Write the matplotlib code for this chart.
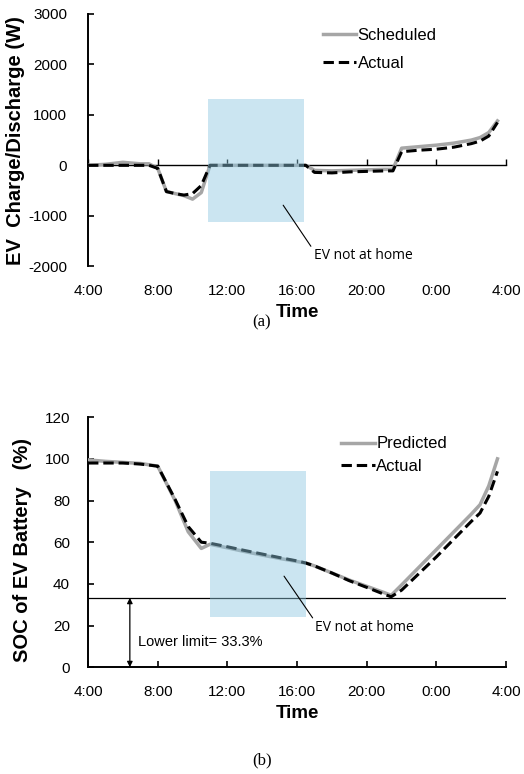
#!/usr/bin/env python3
"""
EV charge/discharge schedule and battery SOC over one day
(a) charge/discharge power, (b) state of charge
"""

import matplotlib
matplotlib.use('Agg')
import matplotlib.pyplot as plt

plt.rcParams['axes.unicode_minus'] = False

# hours after 4:00
tick_hours = [0, 4, 8, 12, 16, 20, 24]
tick_labels = ['4:00', '8:00', '12:00', '16:00', '20:00', '0:00', '4:00']

# (a) charge / discharge power (W)
power_hours = [0, 1, 2, 3, 3.5, 4, 4.5, 5, 5.5, 6, 6.5, 7, 8, 9, 10, 11, 12, 12.5,
               13, 14, 15, 16, 17, 17.5, 18, 19, 20, 21, 22, 22.5, 23, 23.5]
power_scheduled = [0, 20, 60, 30, 30, -60, -520, -560, -600, -670, -540, 0, 0, 0, 0, 0, 0, 0,
                   -100, -110, -100, -90, -80, -80, 340, 370, 400, 440, 500, 550, 650, 880]
power_actual = [0, 0, 0, 0, 0, -60, -520, -560, -590, -560, -400, 0, 0, 0, 0, 0, 0, 0,
                -140, -150, -130, -120, -110, -110, 270, 300, 320, 360, 430, 480, 580, 850]

# (b) state of charge (%)
soc_hours = [0, 1, 2, 3, 4, 5, 5.75, 6.5, 7, 8, 9, 10, 11, 12, 12.5, 13, 14, 15, 16,
             17, 17.4, 18, 19, 20, 21, 22, 22.5, 23, 23.5]
soc_predicted = [99.5, 98.8, 98.3, 97.8, 96.5, 80, 65, 57, 59, 57.3, 55.5, 53.8, 52.2, 50.7, 50,
                 48.6, 45.2, 41.8, 38.8, 35.8, 34.5, 39.5, 48, 56.5, 65, 73.5, 78, 87, 100]
soc_actual = [98, 98, 98, 97.5, 96.5, 80.5, 67.5, 60, 59.5, 57.8, 56, 54.3, 52.6, 51, 50,
              48.6, 45.2, 41.5, 38.3, 35, 33.8, 37, 45, 53, 61.5, 70, 74, 82, 94]
soc_lower_limit = 33.3

# EV away from home
away_a = (6.9, 12.4, -1130, 1310)
away_b = (7.0, 12.5, 24.2, 94)

FONT = 'Liberation Sans'
GRAY = '#a6a6a6'
BLUE = (0.55, 0.78, 0.88)


def style_axes(ax, ylim, yticks, ypad):
    ax.set_xlim(0, 24)
    ax.set_ylim(*ylim)
    ax.set_yticks(yticks)
    ax.spines['top'].set_visible(False)
    ax.spines['right'].set_visible(False)
    ax.spines['left'].set_linewidth(1.4)
    ax.tick_params(axis='y', direction='in', length=4, width=1.2, pad=ypad,
                   labelsize=11)
    for lab in ax.get_yticklabels():
        lab.set_fontfamily(FONT)


def draw_lines(ax, x, y_gray, y_black, labels):
    ax.plot(x, y_gray, color=GRAY, lw=2.5, label=labels[0], zorder=3)
    ax.plot(x, y_black, color='black', lw=2.2, dashes=(3.4, 1.6),
            label=labels[1], zorder=4)


fig = plt.figure(figsize=(5.24, 7.74), dpi=100)
ax1 = fig.add_axes([0.168, 0.656, 0.798, 0.326])
ax2 = fig.add_axes([0.168, 0.138, 0.798, 0.323])

# ---- (a) ----
style_axes(ax1, (-2000, 3000), [-2000, -1000, 0, 1000, 2000, 3000], 15)
ax1.spines['bottom'].set_position(('data', 0))
ax1.spines['bottom'].set_linewidth(1.0)
ax1.set_xticks(tick_hours)
ax1.tick_params(axis='x', direction='in', length=4, width=1.0, labelbottom=False)
sec1 = ax1.secondary_xaxis('bottom')
sec1.spines['bottom'].set_visible(False)
sec1.set_xticks(tick_hours)
sec1.set_xticklabels(tick_labels, fontfamily=FONT, fontsize=11)
sec1.tick_params(length=0, pad=13)
sec1.set_xlabel('Time', fontfamily=FONT, fontsize=13.5, fontweight='bold', labelpad=4)

draw_lines(ax1, power_hours, power_scheduled, power_actual, ['Scheduled', 'Actual'])
ax1.axvspan(away_a[0], away_a[1], ymin=(away_a[2] + 2000) / 5000,
            ymax=(away_a[3] + 2000) / 5000, color=BLUE, alpha=0.45, lw=0, zorder=5)
ax1.annotate('EV not at home', xy=(11.2, -790), xytext=(12.95, -1790),
             fontfamily='Open Sans', fontsize=10, ha='left', va='center',
             arrowprops=dict(arrowstyle='-', lw=0.8, color='black', shrinkA=0, shrinkB=0,
                             relpos=(0, 0.85)), zorder=6)
ax1.set_ylabel('EV  Charge/Discharge (W)', fontfamily=FONT, fontsize=14.5, fontweight='bold')
ax1.yaxis.set_label_coords(-0.15, 0.5)
ax1.legend(loc='upper left', bbox_to_anchor=(0.545, 0.97), frameon=False,
           prop={'family': FONT, 'size': 12}, handlelength=2.0, handletextpad=0.1,
           labelspacing=0.75, borderaxespad=0)

# ---- (b) ----
style_axes(ax2, (0, 120), [0, 20, 40, 60, 80, 100, 120], 13)
ax2.spines['bottom'].set_linewidth(1.4)
ax2.set_xticks(tick_hours)
ax2.set_xticklabels(tick_labels, fontfamily=FONT, fontsize=11)
ax2.tick_params(axis='x', direction='in', length=4, width=1.2, pad=13)
ax2.set_xlabel('Time', fontfamily=FONT, fontsize=13.5, fontweight='bold', labelpad=4)

draw_lines(ax2, soc_hours, soc_predicted, soc_actual, ['Predicted', 'Actual'])
ax2.axhline(soc_lower_limit, color='black', lw=0.9, zorder=2)
ax2.axvspan(away_b[0], away_b[1], ymin=away_b[2] / 120, ymax=away_b[3] / 120,
            color=BLUE, alpha=0.45, lw=0, zorder=5)
ax2.annotate('EV not at home', xy=(11.25, 43.7), xytext=(13.05, 19.2),
             fontfamily='Open Sans', fontsize=10, ha='left', va='center',
             arrowprops=dict(arrowstyle='-', lw=0.8, color='black', shrinkA=0, shrinkB=0,
                             relpos=(0, 0.85)), zorder=6)
ax2.annotate('', xy=(2.4, 0), xytext=(2.4, soc_lower_limit),
             arrowprops=dict(arrowstyle='<|-|>', lw=0.9, color='black',
                             shrinkA=0, shrinkB=0, mutation_scale=8))
ax2.text(2.85, 12, 'Lower limit= 33.3%', fontfamily=FONT, fontsize=10.5,
         ha='left', va='center')
ax2.set_ylabel('SOC of EV Battery   (%)', fontfamily=FONT, fontsize=14.5, fontweight='bold')
ax2.yaxis.set_label_coords(-0.135, 0.47)
ax2.legend(loc='upper left', bbox_to_anchor=(0.59, 0.95), frameon=False,
           prop={'family': FONT, 'size': 12}, handlelength=2.0, handletextpad=0.1,
           labelspacing=0.45, borderaxespad=0)

fig.text(0.5, 0.583, '(a)', fontfamily='Liberation Serif', fontsize=12, ha='center', va='center')
fig.text(0.5, 0.017, '(b)', fontfamily='Liberation Serif', fontsize=12, ha='center', va='center')

fig.savefig('out.png', dpi=100)
